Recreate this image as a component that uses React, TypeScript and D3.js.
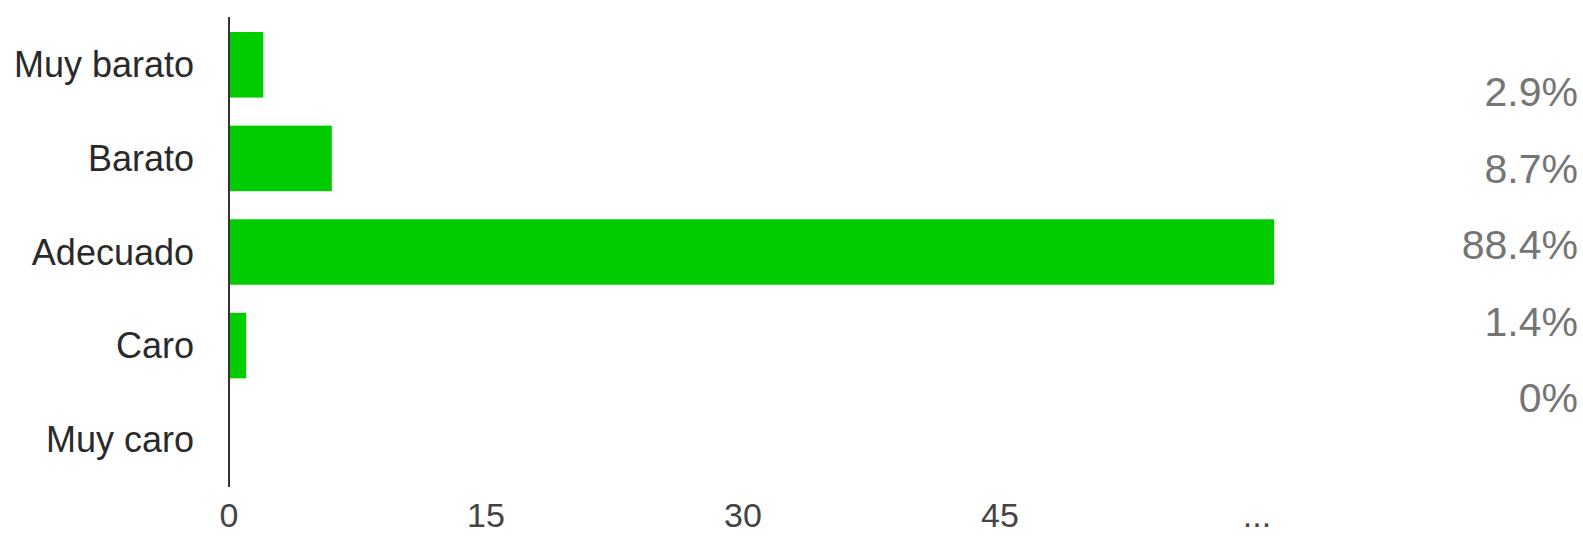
import React, { useEffect, useRef } from 'react';
import * as d3 from 'd3';

// answer categories and counts (69 responses)
const categories = ['Muy barato', 'Barato', 'Adecuado', 'Caro', 'Muy caro'];
const counts = [2, 6, 61, 1, 0];
const percentLabels = ['2.9%', '8.7%', '88.4%', '1.4%', '0%'];
const tickValues = [0, 15, 30, 45, 60];
const tickLabels = ['0', '15', '30', '45', '...'];

const WIDTH = 1583;
const HEIGHT = 537;

const App: React.FC = () => {
  const svgRef = useRef<SVGSVGElement>(null);

  useEffect(() => {
    if (!svgRef.current) return;
    const svg = d3.select(svgRef.current);
    svg.selectAll('*').remove();

    const x = d3.scaleLinear().domain([0, 60]).range([229, 1257]);
    const y = d3.scaleBand().domain(categories).range([18, 486]).paddingInner(0.3).paddingOuter(0.15);
    // the percentage column sits on its own tighter spacing
    const yPct = d3.scalePoint().domain(categories).range([92, 398]);

    const font = '"Liberation Sans", Arial, sans-serif';

    // bars
    svg.append('g')
      .selectAll('rect')
      .data(categories)
      .enter()
      .append('rect')
      .attr('x', x(0))
      .attr('y', d => y(d) || 0)
      .attr('width', (_, i) => x(counts[i]) - x(0))
      .attr('height', y.bandwidth())
      .attr('fill', '#00cc00');

    // vertical axis line
    svg.append('line')
      .attr('x1', x(0)).attr('x2', x(0))
      .attr('y1', 17).attr('y2', 487)
      .attr('stroke', '#333')
      .attr('stroke-width', 2);

    // category labels
    svg.append('g')
      .selectAll('text')
      .data(categories)
      .enter()
      .append('text')
      .attr('x', 194)
      .attr('y', d => (y(d) || 0) + y.bandwidth() / 2)
      .attr('dy', '0.35em')
      .attr('text-anchor', 'end')
      .attr('font-family', font)
      .attr('font-size', 36)
      .attr('fill', '#2a2a2a')
      .text(d => d);

    // x tick labels
    svg.append('g')
      .selectAll('text')
      .data(tickValues)
      .enter()
      .append('text')
      .attr('x', d => x(d))
      .attr('y', 527)
      .attr('text-anchor', 'middle')
      .attr('font-family', font)
      .attr('font-size', 34)
      .attr('fill', '#444')
      .text((_, i) => tickLabels[i]);

    // percentages on the right
    svg.append('g')
      .selectAll('text')
      .data(categories)
      .enter()
      .append('text')
      .attr('x', 1578)
      .attr('y', d => yPct(d) || 0)
      .attr('dy', '0.35em')
      .attr('text-anchor', 'end')
      .attr('font-family', font)
      .attr('font-size', 41)
      .attr('fill', '#757575')
      .text((_, i) => percentLabels[i]);
  }, []);

  return (
    <div style={{ position: 'fixed', left: 0, top: 0, width: WIDTH, height: HEIGHT, background: '#fff' }}>
      <svg ref={svgRef} width={WIDTH} height={HEIGHT}></svg>
    </div>
  );
};

export default App;
